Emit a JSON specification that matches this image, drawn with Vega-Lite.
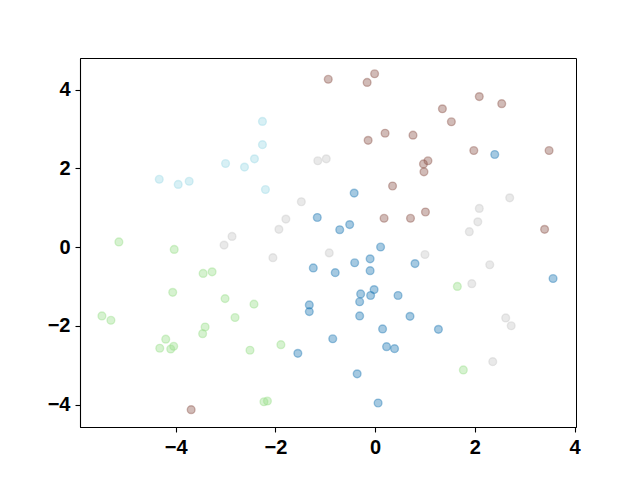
{
  "$schema": "https://vega.github.io/schema/vega-lite/v6.json",
  "autosize": {"type": "none"},
  "padding": {"left": 80, "top": 58, "right": 64, "bottom": 53},
  "width": 496,
  "height": 369,
  "background": "white",
  "config": {
    "view": {"stroke": "black", "strokeWidth": 1},
    "axis": {
      "grid": false,
      "domainColor": "black",
      "domainWidth": 1.1,
      "tickColor": "black",
      "tickWidth": 1.1,
      "tickSize": 5,
      "labelFont": "Liberation Sans",
      "labelFontWeight": "bold",
      "labelFontSize": 20,
      "labelColor": "black",
      "labelPadding": 5,
      "title": null
    }
  },
  "data": {
    "values": [
      {"x": 2.40, "y": 2.35, "g": "A"},
      {"x": -0.42, "y": 1.37, "g": "A"},
      {"x": -1.16, "y": 0.75, "g": "A"},
      {"x": -0.51, "y": 0.57, "g": "A"},
      {"x": -0.71, "y": 0.44, "g": "A"},
      {"x": 0.11, "y": 0.00, "g": "A"},
      {"x": -0.41, "y": -0.40, "g": "A"},
      {"x": -0.10, "y": -0.30, "g": "A"},
      {"x": -0.10, "y": -0.60, "g": "A"},
      {"x": -0.80, "y": -0.65, "g": "A"},
      {"x": 0.80, "y": -0.42, "g": "A"},
      {"x": 3.57, "y": -0.80, "g": "A"},
      {"x": -0.02, "y": -1.08, "g": "A"},
      {"x": -0.29, "y": -1.19, "g": "A"},
      {"x": -0.09, "y": -1.23, "g": "A"},
      {"x": 0.46, "y": -1.23, "g": "A"},
      {"x": -0.31, "y": -1.39, "g": "A"},
      {"x": -0.31, "y": -1.75, "g": "A"},
      {"x": 0.70, "y": -1.76, "g": "A"},
      {"x": 0.15, "y": -2.08, "g": "A"},
      {"x": 1.27, "y": -2.09, "g": "A"},
      {"x": -0.85, "y": -2.33, "g": "A"},
      {"x": 0.23, "y": -2.53, "g": "A"},
      {"x": 0.39, "y": -2.58, "g": "A"},
      {"x": -0.36, "y": -3.22, "g": "A"},
      {"x": 0.06, "y": -3.96, "g": "A"},
      {"x": -1.24, "y": -0.53, "g": "A"},
      {"x": -1.32, "y": -1.47, "g": "A"},
      {"x": -1.32, "y": -1.64, "g": "A"},
      {"x": -1.55, "y": -2.70, "g": "A"},
      {"x": -0.94, "y": 4.26, "g": "B"},
      {"x": -0.01, "y": 4.40, "g": "B"},
      {"x": -0.16, "y": 4.18, "g": "B"},
      {"x": 2.09, "y": 3.82, "g": "B"},
      {"x": 2.54, "y": 3.64, "g": "B"},
      {"x": 1.35, "y": 3.51, "g": "B"},
      {"x": 1.53, "y": 3.18, "g": "B"},
      {"x": 0.20, "y": 2.89, "g": "B"},
      {"x": -0.14, "y": 2.71, "g": "B"},
      {"x": 0.76, "y": 2.84, "g": "B"},
      {"x": 1.98, "y": 2.45, "g": "B"},
      {"x": 3.49, "y": 2.45, "g": "B"},
      {"x": 1.06, "y": 2.19, "g": "B"},
      {"x": 0.97, "y": 2.11, "g": "B"},
      {"x": 0.98, "y": 1.91, "g": "B"},
      {"x": 0.35, "y": 1.55, "g": "B"},
      {"x": 1.01, "y": 0.89, "g": "B"},
      {"x": 0.18, "y": 0.73, "g": "B"},
      {"x": 0.71, "y": 0.73, "g": "B"},
      {"x": 3.40, "y": 0.45, "g": "B"},
      {"x": -3.69, "y": -4.13, "g": "B"},
      {"x": -1.15, "y": 2.19, "g": "C"},
      {"x": -0.98, "y": 2.24, "g": "C"},
      {"x": -1.48, "y": 1.15, "g": "C"},
      {"x": -1.79, "y": 0.71, "g": "C"},
      {"x": -1.93, "y": 0.45, "g": "C"},
      {"x": -2.87, "y": 0.27, "g": "C"},
      {"x": -3.03, "y": 0.05, "g": "C"},
      {"x": -2.05, "y": -0.27, "g": "C"},
      {"x": -0.92, "y": -0.15, "g": "C"},
      {"x": 1.00, "y": -0.19, "g": "C"},
      {"x": 2.30, "y": -0.45, "g": "C"},
      {"x": 1.94, "y": -0.93, "g": "C"},
      {"x": 2.70, "y": 1.25, "g": "C"},
      {"x": 2.09, "y": 0.98, "g": "C"},
      {"x": 2.06, "y": 0.64, "g": "C"},
      {"x": 1.89, "y": 0.39, "g": "C"},
      {"x": 2.62, "y": -1.80, "g": "C"},
      {"x": 2.73, "y": -2.00, "g": "C"},
      {"x": 2.36, "y": -2.91, "g": "C"},
      {"x": -2.26, "y": 3.19, "g": "E"},
      {"x": -2.26, "y": 2.60, "g": "E"},
      {"x": -2.42, "y": 2.24, "g": "E"},
      {"x": -3.00, "y": 2.12, "g": "E"},
      {"x": -2.62, "y": 2.03, "g": "E"},
      {"x": -4.33, "y": 1.72, "g": "E"},
      {"x": -3.95, "y": 1.59, "g": "E"},
      {"x": -3.73, "y": 1.67, "g": "E"},
      {"x": -2.20, "y": 1.46, "g": "E"},
      {"x": -5.14, "y": 0.13, "g": "D"},
      {"x": -4.03, "y": -0.06, "g": "D"},
      {"x": -3.45, "y": -0.67, "g": "D"},
      {"x": -3.27, "y": -0.63, "g": "D"},
      {"x": -4.06, "y": -1.15, "g": "D"},
      {"x": -3.01, "y": -1.31, "g": "D"},
      {"x": -2.43, "y": -1.45, "g": "D"},
      {"x": -5.48, "y": -1.75, "g": "D"},
      {"x": -5.30, "y": -1.86, "g": "D"},
      {"x": -2.81, "y": -1.79, "g": "D"},
      {"x": -3.41, "y": -2.03, "g": "D"},
      {"x": -3.46, "y": -2.20, "g": "D"},
      {"x": -4.20, "y": -2.34, "g": "D"},
      {"x": -4.04, "y": -2.52, "g": "D"},
      {"x": -4.32, "y": -2.57, "g": "D"},
      {"x": -4.10, "y": -2.59, "g": "D"},
      {"x": -2.51, "y": -2.62, "g": "D"},
      {"x": -1.89, "y": -2.48, "g": "D"},
      {"x": -2.23, "y": -3.93, "g": "D"},
      {"x": -2.16, "y": -3.91, "g": "D"},
      {"x": 1.65, "y": -1.00, "g": "D"},
      {"x": 1.77, "y": -3.12, "g": "D"}
    ]
  },
  "mark": {
    "type": "point",
    "shape": "circle",
    "filled": true,
    "size": 60,
    "fillOpacity": 0.4,
    "strokeOpacity": 0.4,
    "strokeWidth": 1.4
  },
  "encoding": {
    "x": {
      "field": "x",
      "type": "quantitative",
      "scale": {"domain": [-5.92, 4.03], "nice": false, "zero": false},
      "axis": {"values": [-4, -2, 0, 2, 4], "format": "d"}
    },
    "y": {
      "field": "y",
      "type": "quantitative",
      "scale": {"domain": [-4.57, 4.80], "nice": false, "zero": false},
      "axis": {"values": [-4, -2, 0, 2, 4], "format": "d"}
    },
    "fill": {
      "field": "g",
      "type": "nominal",
      "scale": {"domain": ["A", "B", "C", "D", "E"], "range": ["#1f77b4", "#8c564b", "#c7c7c7", "#98df8a", "#9edae5"]},
      "legend": null
    },
    "stroke": {
      "field": "g",
      "type": "nominal",
      "scale": {"domain": ["A", "B", "C", "D", "E"], "range": ["#1f77b4", "#8c564b", "#c7c7c7", "#98df8a", "#9edae5"]},
      "legend": null
    }
  }
}
